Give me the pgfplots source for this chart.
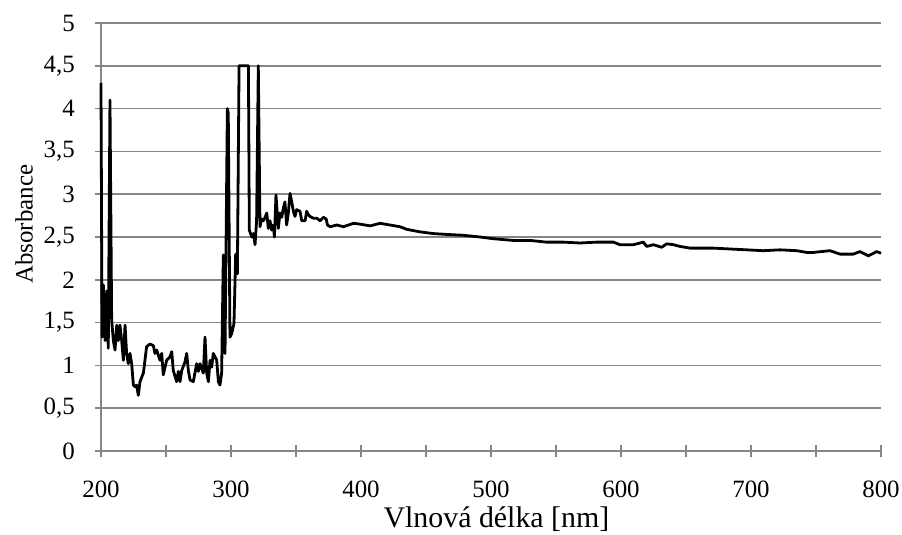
\documentclass[border=0pt]{standalone}
\usepackage{fontspec}
\setmainfont{Liberation Serif}
\usepackage{pgfplots}
\pgfplotsset{compat=1.18}
\definecolor{gridgray}{RGB}{134,134,134}

\begin{document}
\begin{tikzpicture}
\useasboundingbox (-101bp,-84bp) rectangle (801bp,451bp);
\begin{axis}[
    at={(0,0)}, anchor=south west,
    width=780bp, height=428bp, scale only axis,
    xmin=200, xmax=800, ymin=0, ymax=5,
    axis x line=bottom, axis y line=left,
    axis line style={draw=gridgray, line width=1.6bp, -},
    xtick={200,300,...,800},
    minor xtick={250,350,...,750},
    ytick={0,0.5,1,1.5,2,2.5,3,3.5,4,4.5,5},
    tick align=center,
    major tick length=12bp, minor tick length=12bp,
    tick style={draw=gridgray, line width=1.6bp},
    ymajorgrids,
    grid style={draw=gridgray, line width=1.6bp},
    /pgf/number format/use comma,
    /pgf/number format/assume math mode=true,
    ticklabel style={font=\fontsize{25}{25}\selectfont},
    xticklabel style={anchor=base, yshift=-40bp},
    yticklabel style={anchor=east, inner sep=0pt, xshift=-20bp},
    xlabel={Vlnová délka [nm]},
    ylabel={Absorbance},
    xlabel style={font=\fontsize{30}{30}\selectfont, at={(axis description cs:0.507,-0.1776)}, anchor=base},
    ylabel style={font=\fontsize{25}{25}\selectfont, at={(axis description cs:-0.0987,0.53)}, anchor=center},
    clip=false,
]
\addplot[black, line width=2.8bp, line join=round] coordinates {
(200,4.30) (200.8,1.33) (201.8,1.94) (203.1,1.29) (204.4,1.87) (205.6,1.20)
(206.9,4.10) (208.2,1.53) (209.5,1.29) (210.8,1.18) (212.1,1.47) (213.3,1.29)
(214.6,1.47) (215.9,1.29) (217.2,1.06) (218.5,1.47) (219.7,1.14) (221.0,1.02)
(222.3,1.14) (223.6,1.02) (224.9,0.77) (226.2,0.75) (227.4,0.77) (228.7,0.65)
(230.0,0.81) (232.6,0.91) (235.1,1.22) (237.7,1.25) (240.3,1.23) (241.5,1.14)
(242.8,1.18) (245.4,1.06) (246.7,1.14) (247.9,0.89) (250.5,1.06) (253.1,1.10)
(254.4,1.16) (255.6,0.94) (258.2,0.81) (259.5,0.93) (260.8,0.81) (262.1,0.94)
(264.6,1.04) (265.9,1.14) (267.2,0.94) (268.5,0.83) (271.0,0.81) (273.6,1.02)
(274.9,0.93) (276.2,1.02) (278.7,0.91) (280.0,1.33) (281.3,0.91) (282.6,0.81)
(283.9,1.06) (285.1,0.98) (286.4,1.14) (289.0,1.06) (290.3,0.81) (291.5,0.77)
(292.8,0.91) (294.1,2.29) (295.4,1.14) (297.2,4.00) (297.9,3.95) (299.2,1.33)
(300.5,1.37) (302.3,1.49) (303.6,2.30) (304.9,2.07) (306.2,4.50) (313.4,4.50)
(314.1,2.58) (316.0,2.50) (317.2,2.54) (318.5,2.41) (319.7,2.69) (321.0,4.50)
(322.3,2.62) (323.6,2.71) (324.9,2.69) (326.2,2.73) (327.5,2.78) (328.7,2.60)
(330.0,2.69) (331.3,2.58) (332.6,2.64) (333.4,2.50) (334.6,2.99) (336.4,2.60)
(337.7,2.78) (339.0,2.73) (340.3,2.84) (341.5,2.91) (342.8,2.64) (344.1,2.78)
(345.4,3.01) (346.7,2.91) (348.0,2.80) (349.2,2.74) (350.5,2.82) (353.1,2.80)
(354.4,2.69) (357.0,2.69) (358.2,2.80) (359.5,2.76) (360.8,2.74) (363.4,2.72)
(366.0,2.72) (368.5,2.69) (371.1,2.73) (373.2,2.71) (374.2,2.64) (376.3,2.62)
(381.4,2.64) (386.5,2.62) (394.2,2.66) (399.4,2.65) (407.1,2.63) (414.6,2.66)
(422.3,2.64) (430.0,2.62) (435.1,2.59) (445.4,2.56) (455.6,2.54) (465.9,2.53)
(478.7,2.52) (491.5,2.50) (501.8,2.48) (517.2,2.46) (530.0,2.46) (542.8,2.44)
(555.6,2.44) (568.5,2.43) (581.3,2.44) (594.1,2.44) (599.2,2.41) (609.5,2.41)
(617.2,2.44) (619.8,2.39) (624.9,2.41) (631.3,2.38) (635.1,2.42) (640.3,2.41)
(645.4,2.39) (653.1,2.37) (671.0,2.37) (683.8,2.36) (696.7,2.35) (709.5,2.34)
(722.3,2.35) (735.2,2.34) (742.8,2.32) (748.0,2.32) (760.8,2.34) (768.5,2.30)
(778.7,2.30) (783.8,2.33) (790.3,2.28) (796.7,2.33) (800,2.31)
};
\end{axis}
\end{tikzpicture}
\end{document}
